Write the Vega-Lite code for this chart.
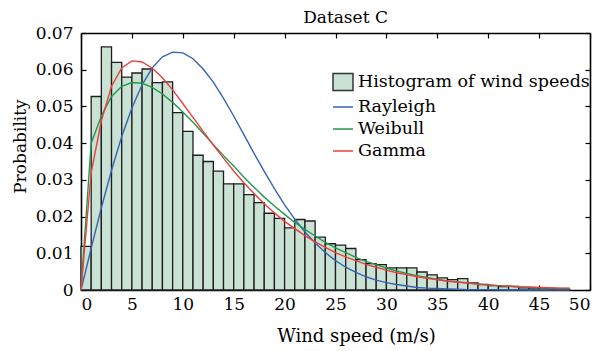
{
  "$schema": "https://vega.github.io/schema/vega-lite/v6.json",
  "autosize": {"type": "none"},
  "padding": {"left": 81, "top": 33, "right": 25, "bottom": 61},
  "width": 509,
  "height": 257,
  "background": "white",
  "title": {"text": "Dataset C", "font": "DejaVu Serif", "fontSize": 17, "fontWeight": "normal", "color": "black", "offset": -3, "dx": 10},
  "datasets": {
    "hist": [
      {"b0": 0, "b1": 1, "p": 0.0119}, {"b0": 1, "b1": 2, "p": 0.0527}, {"b0": 2, "b1": 3, "p": 0.0662}, {"b0": 3, "b1": 4, "p": 0.0620},
      {"b0": 4, "b1": 5, "p": 0.0580}, {"b0": 5, "b1": 6, "p": 0.0591}, {"b0": 6, "b1": 7, "p": 0.0602}, {"b0": 7, "b1": 8, "p": 0.0565},
      {"b0": 8, "b1": 9, "p": 0.0567}, {"b0": 9, "b1": 10, "p": 0.0483}, {"b0": 10, "b1": 11, "p": 0.0432}, {"b0": 11, "b1": 12, "p": 0.0367},
      {"b0": 12, "b1": 13, "p": 0.0350}, {"b0": 13, "b1": 14, "p": 0.0324}, {"b0": 14, "b1": 15, "p": 0.0289}, {"b0": 15, "b1": 16, "p": 0.0289},
      {"b0": 16, "b1": 17, "p": 0.0260}, {"b0": 17, "b1": 18, "p": 0.0238}, {"b0": 18, "b1": 19, "p": 0.0209}, {"b0": 19, "b1": 20, "p": 0.0195},
      {"b0": 20, "b1": 21, "p": 0.0169}, {"b0": 21, "b1": 22, "p": 0.0192}, {"b0": 22, "b1": 23, "p": 0.0188}, {"b0": 23, "b1": 24, "p": 0.0144},
      {"b0": 24, "b1": 25, "p": 0.0126}, {"b0": 25, "b1": 26, "p": 0.0122}, {"b0": 26, "b1": 27, "p": 0.0113}, {"b0": 27, "b1": 28, "p": 0.0083},
      {"b0": 28, "b1": 29, "p": 0.0072}, {"b0": 29, "b1": 30, "p": 0.0069}, {"b0": 30, "b1": 31, "p": 0.0060}, {"b0": 31, "b1": 32, "p": 0.0060},
      {"b0": 32, "b1": 33, "p": 0.0060}, {"b0": 33, "b1": 34, "p": 0.0049}, {"b0": 34, "b1": 35, "p": 0.0041}, {"b0": 35, "b1": 36, "p": 0.0033},
      {"b0": 36, "b1": 37, "p": 0.0028}, {"b0": 37, "b1": 38, "p": 0.0031}, {"b0": 38, "b1": 39, "p": 0.0019}, {"b0": 39, "b1": 40, "p": 0.0015},
      {"b0": 40, "b1": 41, "p": 0.0012}, {"b0": 41, "b1": 42, "p": 0.0009}, {"b0": 42, "b1": 43, "p": 0.0010}, {"b0": 43, "b1": 44, "p": 0.0006},
      {"b0": 44, "b1": 45, "p": 0.0005}, {"b0": 45, "b1": 46, "p": 0.0005}, {"b0": 46, "b1": 47, "p": 0.0002}, {"b0": 47, "b1": 48, "p": 0.0002}
    ],
    "curves": [
      {"x": 0, "p": 0, "series": "Rayleigh"}, {"x": 1, "p": 0.0114, "series": "Rayleigh"}, {"x": 2, "p": 0.0224, "series": "Rayleigh"}, {"x": 3, "p": 0.0326, "series": "Rayleigh"}, {"x": 4, "p": 0.0418, "series": "Rayleigh"}, {"x": 5, "p": 0.0496, "series": "Rayleigh"}, {"x": 6, "p": 0.0559, "series": "Rayleigh"}, {"x": 7, "p": 0.0605, "series": "Rayleigh"}, {"x": 8, "p": 0.0635, "series": "Rayleigh"}, {"x": 9, "p": 0.0648, "series": "Rayleigh"}, {"x": 10, "p": 0.0646, "series": "Rayleigh"}, {"x": 11, "p": 0.0630, "series": "Rayleigh"}, {"x": 12, "p": 0.0602, "series": "Rayleigh"}, {"x": 13, "p": 0.0566, "series": "Rayleigh"}, {"x": 14, "p": 0.0522, "series": "Rayleigh"}, {"x": 15, "p": 0.0474, "series": "Rayleigh"}, {"x": 16, "p": 0.0423, "series": "Rayleigh"}, {"x": 17, "p": 0.0372, "series": "Rayleigh"}, {"x": 18, "p": 0.0323, "series": "Rayleigh"}, {"x": 19, "p": 0.0276, "series": "Rayleigh"}, {"x": 20, "p": 0.0232, "series": "Rayleigh"}, {"x": 21, "p": 0.0193, "series": "Rayleigh"}, {"x": 22, "p": 0.0158, "series": "Rayleigh"}, {"x": 23, "p": 0.0128, "series": "Rayleigh"}, {"x": 24, "p": 0.0102, "series": "Rayleigh"}, {"x": 25, "p": 0.0080, "series": "Rayleigh"}, {"x": 26, "p": 0.0062, "series": "Rayleigh"}, {"x": 27, "p": 0.0048, "series": "Rayleigh"}, {"x": 28, "p": 0.0036, "series": "Rayleigh"}, {"x": 29, "p": 0.0027, "series": "Rayleigh"}, {"x": 30, "p": 0.0020, "series": "Rayleigh"}, {"x": 31, "p": 0.0015, "series": "Rayleigh"}, {"x": 32, "p": 0.0011, "series": "Rayleigh"}, {"x": 33, "p": 0.0007, "series": "Rayleigh"}, {"x": 34, "p": 0.0005, "series": "Rayleigh"}, {"x": 35, "p": 0.0004, "series": "Rayleigh"}, {"x": 36, "p": 0.0003, "series": "Rayleigh"}, {"x": 37, "p": 0.0002, "series": "Rayleigh"}, {"x": 38, "p": 0.0001, "series": "Rayleigh"}, {"x": 39, "p": 0.0001, "series": "Rayleigh"}, {"x": 40, "p": 0.0001, "series": "Rayleigh"}, {"x": 42, "p": 0.0000, "series": "Rayleigh"}, {"x": 44, "p": 0.0000, "series": "Rayleigh"}, {"x": 46, "p": 0.0000, "series": "Rayleigh"}, {"x": 48, "p": 0.0000, "series": "Rayleigh"},
      {"x": 0, "p": 0, "series": "Weibull"}, {"x": 1, "p": 0.0400, "series": "Weibull"}, {"x": 2, "p": 0.0474, "series": "Weibull"}, {"x": 3, "p": 0.0527, "series": "Weibull"}, {"x": 4, "p": 0.0555, "series": "Weibull"}, {"x": 5, "p": 0.0565, "series": "Weibull"}, {"x": 6, "p": 0.0563, "series": "Weibull"}, {"x": 7, "p": 0.0552, "series": "Weibull"}, {"x": 8, "p": 0.0534, "series": "Weibull"}, {"x": 9, "p": 0.0511, "series": "Weibull"}, {"x": 10, "p": 0.0485, "series": "Weibull"}, {"x": 11, "p": 0.0457, "series": "Weibull"}, {"x": 12, "p": 0.0427, "series": "Weibull"}, {"x": 13, "p": 0.0396, "series": "Weibull"}, {"x": 14, "p": 0.0366, "series": "Weibull"}, {"x": 15, "p": 0.0338, "series": "Weibull"}, {"x": 16, "p": 0.0307, "series": "Weibull"}, {"x": 17, "p": 0.0280, "series": "Weibull"}, {"x": 18, "p": 0.0253, "series": "Weibull"}, {"x": 19, "p": 0.0229, "series": "Weibull"}, {"x": 20, "p": 0.0206, "series": "Weibull"}, {"x": 21, "p": 0.0184, "series": "Weibull"}, {"x": 22, "p": 0.0165, "series": "Weibull"}, {"x": 23, "p": 0.0147, "series": "Weibull"}, {"x": 24, "p": 0.0130, "series": "Weibull"}, {"x": 25, "p": 0.0115, "series": "Weibull"}, {"x": 26, "p": 0.0102, "series": "Weibull"}, {"x": 27, "p": 0.0089, "series": "Weibull"}, {"x": 28, "p": 0.0078, "series": "Weibull"}, {"x": 29, "p": 0.0069, "series": "Weibull"}, {"x": 30, "p": 0.0060, "series": "Weibull"}, {"x": 31, "p": 0.0052, "series": "Weibull"}, {"x": 32, "p": 0.0045, "series": "Weibull"}, {"x": 33, "p": 0.0039, "series": "Weibull"}, {"x": 34, "p": 0.0034, "series": "Weibull"}, {"x": 35, "p": 0.0029, "series": "Weibull"}, {"x": 36, "p": 0.0025, "series": "Weibull"}, {"x": 37, "p": 0.0022, "series": "Weibull"}, {"x": 38, "p": 0.0019, "series": "Weibull"}, {"x": 39, "p": 0.0016, "series": "Weibull"}, {"x": 40, "p": 0.0014, "series": "Weibull"}, {"x": 41, "p": 0.0012, "series": "Weibull"}, {"x": 42, "p": 0.0010, "series": "Weibull"}, {"x": 43, "p": 0.0008, "series": "Weibull"}, {"x": 44, "p": 0.0007, "series": "Weibull"}, {"x": 45, "p": 0.0006, "series": "Weibull"}, {"x": 46, "p": 0.0005, "series": "Weibull"}, {"x": 47, "p": 0.0004, "series": "Weibull"}, {"x": 48, "p": 0.0004, "series": "Weibull"},
      {"x": 0, "p": 0, "series": "Gamma"}, {"x": 1, "p": 0.0320, "series": "Gamma"}, {"x": 2, "p": 0.0461, "series": "Gamma"}, {"x": 3, "p": 0.0555, "series": "Gamma"}, {"x": 4, "p": 0.0605, "series": "Gamma"}, {"x": 5, "p": 0.0624, "series": "Gamma"}, {"x": 6, "p": 0.0621, "series": "Gamma"}, {"x": 7, "p": 0.0604, "series": "Gamma"}, {"x": 8, "p": 0.0578, "series": "Gamma"}, {"x": 9, "p": 0.0545, "series": "Gamma"}, {"x": 10, "p": 0.0508, "series": "Gamma"}, {"x": 11, "p": 0.0470, "series": "Gamma"}, {"x": 12, "p": 0.0432, "series": "Gamma"}, {"x": 13, "p": 0.0395, "series": "Gamma"}, {"x": 14, "p": 0.0359, "series": "Gamma"}, {"x": 15, "p": 0.0324, "series": "Gamma"}, {"x": 16, "p": 0.0292, "series": "Gamma"}, {"x": 17, "p": 0.0263, "series": "Gamma"}, {"x": 18, "p": 0.0235, "series": "Gamma"}, {"x": 19, "p": 0.0210, "series": "Gamma"}, {"x": 20, "p": 0.0187, "series": "Gamma"}, {"x": 21, "p": 0.0167, "series": "Gamma"}, {"x": 22, "p": 0.0148, "series": "Gamma"}, {"x": 23, "p": 0.0131, "series": "Gamma"}, {"x": 24, "p": 0.0116, "series": "Gamma"}, {"x": 25, "p": 0.0102, "series": "Gamma"}, {"x": 26, "p": 0.0090, "series": "Gamma"}, {"x": 27, "p": 0.0080, "series": "Gamma"}, {"x": 28, "p": 0.0070, "series": "Gamma"}, {"x": 29, "p": 0.0062, "series": "Gamma"}, {"x": 30, "p": 0.0054, "series": "Gamma"}, {"x": 31, "p": 0.0047, "series": "Gamma"}, {"x": 32, "p": 0.0042, "series": "Gamma"}, {"x": 33, "p": 0.0036, "series": "Gamma"}, {"x": 34, "p": 0.0032, "series": "Gamma"}, {"x": 35, "p": 0.0028, "series": "Gamma"}, {"x": 36, "p": 0.0024, "series": "Gamma"}, {"x": 37, "p": 0.0021, "series": "Gamma"}, {"x": 38, "p": 0.0019, "series": "Gamma"}, {"x": 39, "p": 0.0016, "series": "Gamma"}, {"x": 40, "p": 0.0014, "series": "Gamma"}, {"x": 41, "p": 0.0012, "series": "Gamma"}, {"x": 42, "p": 0.0011, "series": "Gamma"}, {"x": 43, "p": 0.0009, "series": "Gamma"}, {"x": 44, "p": 0.0008, "series": "Gamma"}, {"x": 45, "p": 0.0007, "series": "Gamma"}, {"x": 46, "p": 0.0006, "series": "Gamma"}, {"x": 47, "p": 0.0005, "series": "Gamma"}, {"x": 48, "p": 0.0005, "series": "Gamma"}
    ]
  },
  "layer": [
    {
      "data": {"name": "hist"},
      "mark": {"type": "bar", "fill": "#c9e2d3", "stroke": "#1e1e1e", "strokeWidth": 1.3, "opacity": 1},
      "encoding": {
        "x": {"field": "b0", "type": "quantitative", "scale": {"domain": [0, 50], "nice": false, "zero": false},
          "axis": {"orient": "bottom", "values": [0,5,10,15,20,25,30,35,40,45,50], "title": "Wind speed (m/s)", "labelPadding": 11, "titlePadding": 15, "titleFontSize": 18, "titleX": 275}},
        "x2": {"field": "b1"},
        "y": {"field": "p", "type": "quantitative", "scale": {"domain": [0, 0.07], "nice": false},
          "axis": {"orient": "left", "values": [0,0.01,0.02,0.03,0.04,0.05,0.06,0.07], "format": ".2~f", "title": "Probability", "labelPadding": 13, "titlePadding": 6, "titleY": 113}},
        "y2": {"datum": 0}
      }
    },
    {
      "data": {"name": "curves"},
      "mark": {"type": "line", "strokeWidth": 1.4, "interpolate": "linear"},
      "encoding": {
        "x": {"field": "x", "type": "quantitative", "axis": {"orient": "top", "values": [0,5,10,15,20,25,30,35,40,45,50], "labels": false, "title": null}},
        "y": {"field": "p", "type": "quantitative", "axis": {"orient": "right", "values": [0,0.01,0.02,0.03,0.04,0.05,0.06,0.07], "labels": false, "title": null}},
        "color": {"field": "series", "type": "nominal",
          "scale": {"domain": ["Histogram of wind speeds", "Rayleigh", "Weibull", "Gamma"], "range": ["#333333", "#3564b6", "#1e9a4b", "#ee3d3d"]},
          "legend": {
            "orient": "none", "legendX": 251, "legendY": 38, "title": null, "padding": 0,
            "labelFont": "DejaVu Serif", "labelFontSize": 17.5, "labelColor": "black", "labelLimit": 400,
            "symbolSize": 400, "rowPadding": 2, "labelOffset": 4, "symbolStrokeWidth": 1.5,
            "symbolType": {"expr": "datum.value === 'Histogram of wind speeds' ? 'M-1,-0.85H1V0.85H-1Z' : 'stroke'"},
            "symbolFillColor": {"expr": "datum.value === 'Histogram of wind speeds' ? '#c9e2d3' : 'transparent'"}
          }},
        "order": {"field": "x", "type": "quantitative"}
      }
    }
  ],
  "resolve": {"axis": {"x": "independent", "y": "independent"}},
  "config": {
    "view": {"stroke": null},
    "axis": {
      "labelFont": "DejaVu Serif", "labelFontSize": 17, "labelColor": "black",
      "titleFont": "DejaVu Serif", "titleFontSize": 17, "titleFontWeight": "normal", "titleColor": "black",
      "domainColor": "black", "domainWidth": 1.6, "tickColor": "black", "tickWidth": 1.2, "tickSize": -5,
      "grid": false
    }
  }
}
